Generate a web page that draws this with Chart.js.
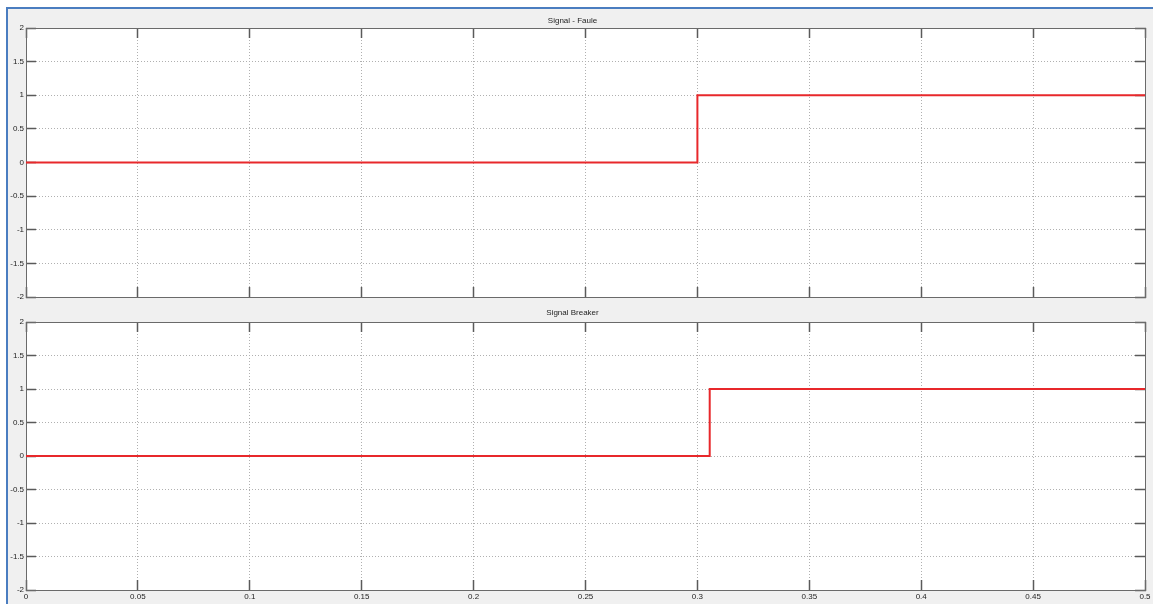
<!DOCTYPE html>
<html>
<head>
<meta charset="utf-8">
<script src="https://cdn.jsdelivr.net/npm/chart.js@4.4.0/dist/chart.umd.min.js"></script>
<style>
  body { margin: 0; background: #fff; width: 1153px; height: 604px; overflow: hidden; position: relative; }
  #frame { position: absolute; left: 6px; top: 7px; right: 0; bottom: 0;
           border-left: 2px solid #4a7dc0; border-top: 2px solid #4a7dc0; background: #f0f0f0; }
  canvas { position: absolute; left: 0; }
</style>
</head>
<body>
<div id="frame"></div>
<canvas id="faultChart" width="1153" height="292" style="top:8px"></canvas>
<canvas id="breakerChart" width="1153" height="304" style="top:300px"></canvas>
<script>
// step signals (time in s, signal level)
const faultTime = [0, 0.3, 0.5];
const faultSignal = [0, 1, 1];
const breakerTime = [0, 0.3055, 0.5];
const breakerSignal = [0, 1, 1];

const xTicks = [0, 0.05, 0.1, 0.15, 0.2, 0.25, 0.3, 0.35, 0.4, 0.45, 0.5];
const yTicks = [-2, -1.5, -1, -0.5, 0, 0.5, 1, 1.5, 2];

Chart.defaults.font.family = "'Liberation Sans', Arial, sans-serif";
Chart.defaults.font.size = 8;
Chart.defaults.color = '#1e1e1e';

// white plot area, grey around it (like the scope window)
const plotBackground = {
  id: 'plotBackground',
  beforeDraw(chart) {
    const a = chart.chartArea;
    chart.ctx.save();
    chart.ctx.fillStyle = '#fff';
    chart.ctx.fillRect(a.left, a.top, a.right - a.left, a.bottom - a.top);
    chart.ctx.restore();
  }
};

const tickMarks = { tickLength: -10, tickColor: '#5a5a5a', tickWidth: 1.5 };
const boxBorder = { color: '#6a6a6a', width: 1 };

function setTicks(list) {
  return (scale) => { scale.ticks = list.map((v) => ({ value: v })); };
}

function makeChart(id, title, time, signal, showXLabels, titleBottom) {
  const ctx = document.getElementById(id).getContext('2d');
  return new Chart(ctx, {
    type: 'line',
    data: {
      datasets: [{
        data: time.map((t, i) => ({ x: t, y: signal[i] })),
        borderColor: '#e8282b',
        borderWidth: 2,
        pointRadius: 0,
        stepped: true,
        fill: false,
      }],
    },
    plugins: [plotBackground],
    options: {
      responsive: false,
      animation: false,
      layout: { padding: { top: 0, left: 0, right: 8, bottom: showXLabels ? 0 : 3 } },
      plugins: {
        legend: { display: false },
        tooltip: { enabled: false },
        title: {
          display: true,
          text: title,
          color: '#1e1e1e',
          font: { size: 8, lineHeight: 1.25, weight: 'normal' },
          padding: { top: 8, bottom: titleBottom },
        },
      },
      scales: {
        x: {
          type: 'linear', position: 'bottom', min: 0, max: 0.5,
          afterBuildTicks: setTicks(xTicks),
          ticks: { display: showXLabels, padding: 12, autoSkip: false, maxRotation: 0,
                   callback: (v) => String(v) },
          afterFit: (s) => { s.height = showXLabels ? 14 : 0; s.paddingLeft = 0; s.paddingRight = 0; },
          grid: Object.assign({ color: '#b0b0b0', lineWidth: 1 }, tickMarks),
          border: Object.assign({ dash: [1, 2] }, boxBorder),
        },
        x2: {
          type: 'linear', position: 'top', min: 0, max: 0.5,
          afterBuildTicks: setTicks(xTicks),
          ticks: { display: false },
          afterFit: (s) => { s.height = 0; s.paddingLeft = 0; s.paddingRight = 0; },
          grid: Object.assign({ drawOnChartArea: false }, tickMarks),
          border: boxBorder,
        },
        y: {
          type: 'linear', position: 'left', min: -2, max: 2,
          afterBuildTicks: setTicks(yTicks),
          ticks: { padding: 12, callback: (v) => String(v) },
          afterFit: (s) => { s.width = 26; s.paddingTop = 0; s.paddingBottom = 0; },
          grid: Object.assign({ color: '#b0b0b0', lineWidth: 1 }, tickMarks),
          border: Object.assign({ dash: [1, 2] }, boxBorder),
        },
        y2: {
          type: 'linear', position: 'right', min: -2, max: 2,
          afterBuildTicks: setTicks(yTicks),
          ticks: { display: false },
          afterFit: (s) => { s.width = 0; s.paddingTop = 0; s.paddingBottom = 0; },
          grid: Object.assign({ drawOnChartArea: false }, tickMarks),
          border: boxBorder,
        },
      },
    },
  });
}

makeChart('faultChart', 'Signal - Faule', faultTime, faultSignal, false, 2);
makeChart('breakerChart', 'Signal Breaker', breakerTime, breakerSignal, true, 4);
</script>
</body>
</html>
